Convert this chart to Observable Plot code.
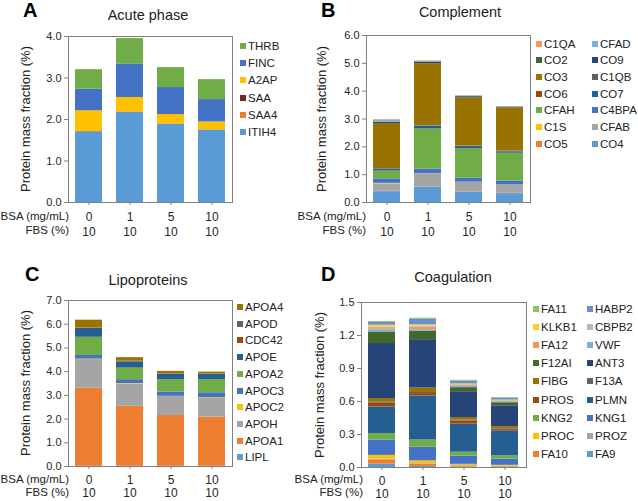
<!DOCTYPE html>
<html><head><meta charset="utf-8">
<script src="https://cdn.jsdelivr.net/npm/d3@7"></script>
<script src="https://cdn.jsdelivr.net/npm/@observablehq/plot@0.6"></script>
<style>
body{margin:0;background:#fff;font-family:Arial,"Liberation Sans",sans-serif;color:#222}
#root{position:relative;width:638px;height:501px;overflow:hidden;background:#fff}
.abs{position:absolute;white-space:nowrap}
.letter{font-weight:bold;font-size:20px;line-height:20px;color:#000}
.title{font-size:14.5px;line-height:16px;transform:translateX(-50%)}
.ylab{font-size:13px;line-height:14px;transform:translate(-50%,-50%) rotate(-90deg)}
.leg{font-size:11.5px;line-height:14px;display:flex;align-items:center}
.leg i{display:inline-block;width:6px;height:6px;margin-right:2px}
.rowh{font-size:11.5px;line-height:14px;text-align:right;transform:translateX(-100%)}
svg.plot-svg{position:absolute}
</style></head><body><div id="root"></div><script>
// Shared categories
const categories = ["0", "1", "5", "10"];   // BSA (mg/mL)
const fbs = ["10", "10", "10", "10"];         // FBS (%)

// A: Acute phase (series listed bottom -> top of stack)
const acuteSeries = ["ITIH4", "SAA4", "SAA", "A2AP", "FINC", "THRB"];
const acuteValues = [
  [1.70, 2.17, 1.88, 1.74],
  [0.005, 0.005, 0.005, 0.005],
  [0.005, 0.005, 0.005, 0.005],
  [0.50, 0.35, 0.23, 0.19],
  [0.52, 0.81, 0.65, 0.54],
  [0.47, 0.61, 0.48, 0.48]
];
const acuteColors = ["#5B9BD5", "#ED7D31", "#7B2424", "#FFC000", "#4472C4", "#70AD47"];
const acuteTicks = [0, 1, 2, 3, 4];

// B: Complement
const complSeries = ["CO4", "CO5", "CFAB", "C1S", "C4BPA", "CFAH", "CO7", "CO6", "C1QB", "CO3", "CO9", "CO2", "CFAD", "C1QA"];
const complValues = [
  [0.39, 0.54, 0.36, 0.32],
  [0.01, 0.01, 0.01, 0.01],
  [0.27, 0.47, 0.35, 0.29],
  [0.02, 0.01, 0.01, 0.01],
  [0.16, 0.17, 0.14, 0.14],
  [0.28, 1.44, 1.06, 1.00],
  [0.07, 0.10, 0.08, 0.05],
  [0.01, 0.01, 0.01, 0.01],
  [0.01, 0.01, 0.01, 0.02],
  [1.62, 2.23, 1.73, 1.55],
  [0.04, 0.05, 0.04, 0.02],
  [0.01, 0.01, 0.01, 0.01],
  [0.07, 0.02, 0.02, 0.01],
  [0.02, 0.02, 0.01, 0.01]
];
const complColors = ["#5B9BD5", "#ED7D31", "#A5A5A5", "#FFC000", "#4472C4", "#70AD47", "#255E91", "#9E480E", "#636363", "#997300", "#264478", "#43682B", "#7CAFDD", "#F1975A"];
const complTicks = [0, 1, 2, 3, 4, 5, 6];

// C: Lipoproteins
const lipoSeries = ["LIPL", "APOA1", "APOH", "APOC2", "APOC3", "APOA2", "APOE", "CDC42", "APOD", "APOA4"];
const lipoValues = [
  [0.01, 0.01, 0.01, 0.01],
  [3.29, 2.53, 2.14, 2.07],
  [1.21, 0.94, 0.80, 0.79],
  [0.02, 0.02, 0.01, 0.03],
  [0.15, 0.16, 0.18, 0.21],
  [0.77, 0.49, 0.52, 0.55],
  [0.37, 0.26, 0.23, 0.22],
  [0.01, 0.01, 0.01, 0.01],
  [0.01, 0.02, 0.01, 0.01],
  [0.33, 0.15, 0.10, 0.08]
];
const lipoColors = ["#5B9BD5", "#ED7D31", "#A5A5A5", "#FFC000", "#4472C4", "#70AD47", "#255E91", "#9E480E", "#636363", "#997300"];
const lipoTicks = [0, 1, 2, 3, 4, 5, 6, 7];

// D: Coagulation
const coagSeries = ["FA9", "FA10", "PROZ", "PROC", "KNG1", "KNG2", "PLMN", "PROS", "F13A", "FIBG", "ANT3", "F12AI", "VWF", "FA12", "CBPB2", "KLKB1", "HABP2", "FA11"];
const coagValues = [
  [0.030, 0.010, 0.005, 0.004],
  [0.037, 0.020, 0.008, 0.005],
  [0.008, 0.005, 0.004, 0.003],
  [0.035, 0.025, 0.012, 0.008],
  [0.140, 0.125, 0.075, 0.056],
  [0.058, 0.065, 0.035, 0.030],
  [0.242, 0.400, 0.255, 0.227],
  [0.035, 0.022, 0.030, 0.012],
  [0.012, 0.010, 0.008, 0.006],
  [0.030, 0.040, 0.022, 0.020],
  [0.500, 0.440, 0.235, 0.190],
  [0.105, 0.075, 0.037, 0.028],
  [0.020, 0.015, 0.012, 0.008],
  [0.010, 0.025, 0.010, 0.008],
  [0.012, 0.010, 0.006, 0.004],
  [0.020, 0.010, 0.006, 0.004],
  [0.025, 0.050, 0.025, 0.018],
  [0.008, 0.010, 0.008, 0.005]
];
const coagColors = ["#5B9BD5", "#ED7D31", "#A5A5A5", "#FFC000", "#4472C4", "#70AD47", "#255E91", "#9E480E", "#636363", "#997300", "#264478", "#43682B", "#7CAFDD", "#F1975A", "#B7B7B7", "#FFCD33", "#698ED0", "#8CC168"];
const coagTicks = [0, 0.3, 0.6, 0.9, 1.2, 1.5];

const root = document.getElementById("root");
function addDiv(cls, text, left, top) {
  const d = document.createElement("div");
  d.className = "abs " + cls;
  d.textContent = text;
  d.style.left = left + "px";
  d.style.top = top + "px";
  root.appendChild(d);
  return d;
}

function panel(cfg) {
  const data = [];
  cfg.series.forEach((s, si) => cfg.values[si].forEach((v, ci) => data.push({bsa: categories[ci], series: s, value: v})));
  const fbsOf = new Map(categories.map((c, i) => [c, fbs[i]]));
  const chart = Plot.plot({
    width: cfg.w, height: cfg.h,
    marginLeft: cfg.ml, marginRight: cfg.mr, marginTop: cfg.mt, marginBottom: cfg.mb,
    style: {background: "transparent", overflow: "visible", fontFamily: "Arial, 'Liberation Sans', sans-serif", fontSize: "11px", color: "#262626", maxWidth: "none"},
    x: {type: "band", domain: categories, paddingInner: 0.34, paddingOuter: 0.17, axis: null},
    y: {domain: cfg.domain, axis: null},
    color: {domain: cfg.series, range: cfg.colors},
    marks: [
      Plot.barY(data, {x: "bsa", y: "value", fill: "series", order: null}),
      Plot.frame({stroke: "#808080"}),
      Plot.axisY({ticks: cfg.ticks, tickFormat: d3.format(".1f"), tickSize: 4, tickPadding: 3, stroke: "#808080", fontSize: 11, label: null}),
      Plot.axisX({tickSize: 3, tickPadding: cfg.tp, stroke: "#808080", fontSize: 12, lineHeight: cfg.lh, label: null,
        tickFormat: d => d + "\n" + fbsOf.get(d)})
    ]
  });
  chart.classList.add("plot-svg");
  chart.style.position = "absolute";
  chart.style.left = cfg.left + "px";
  chart.style.top = cfg.top + "px";
  root.appendChild(chart);

  addDiv("letter", cfg.letter, cfg.letterPos[0], cfg.letterPos[1]);
  addDiv("title", cfg.title, cfg.titlePos[0], cfg.titlePos[1] - 2.6);
  addDiv("ylab", "Protein mass fraction (%)", cfg.ylabPos[0], cfg.ylabPos[1]);
  addDiv("rowh", "BSA (mg/mL)", cfg.rowhX, cfg.rowY[0] - 7);
  addDiv("rowh", "FBS (%)", cfg.rowhX, cfg.rowY[1] - 7);

  const legendItems = cfg.series.map((s, i) => ({s, c: cfg.colors[i]})).reverse();
  const ncol = cfg.legCols.length;
  legendItems.forEach((it, i) => {
    const col = i % ncol, row = Math.floor(i / ncol);
    const d = document.createElement("div");
    d.className = "abs leg";
    d.style.left = cfg.legCols[col] + "px";
    d.style.top = (cfg.legY + row * cfg.legStep - 7) + "px";
    const sq = document.createElement("i");
    sq.style.background = it.c;
    d.appendChild(sq);
    d.appendChild(document.createTextNode(it.s));
    root.appendChild(d);
  });
}

panel({letter: "A", title: "Acute phase", series: acuteSeries, values: acuteValues, colors: acuteColors, ticks: acuteTicks, domain: [0, 4],
  left: 0, top: 0, w: 236, h: 250, ml: 68, mr: 4, mt: 36, mb: 48, tp: 6, lh: 1.17,
  letterPos: [23, 0], titlePos: [148, 10], ylabPos: [26, 119], rowhX: 69, rowY: [215.5, 229.5],
  legCols: [240], legY: 46, legStep: 17.2});

panel({letter: "B", title: "Complement", series: complSeries, values: complValues, colors: complColors, ticks: complTicks, domain: [0, 6],
  left: 318, top: 0, w: 216, h: 250, ml: 48, mr: 4, mt: 35, mb: 48, tp: 6, lh: 1.17,
  letterPos: [321, 0], titlePos: [460, 7], ylabPos: [322, 119], rowhX: 366, rowY: [216, 229.5],
  legCols: [536, 592], legY: 43.5, legStep: 16.7});

panel({letter: "C", title: "Lipoproteins", series: lipoSeries, values: lipoValues, colors: lipoColors, ticks: lipoTicks, domain: [0, 7],
  left: 0, top: 250, w: 236, h: 251, ml: 68, mr: 4, mt: 50, mb: 35, tp: 5, lh: 1.1,
  letterPos: [25, 264], titlePos: [148, 275], ylabPos: [26, 383], rowhX: 69, rowY: [479, 492],
  legCols: [237], legY: 307, legStep: 16.7});

panel({letter: "D", title: "Coagulation", series: coagSeries, values: coagValues, colors: coagColors, ticks: coagTicks, domain: [0, 1.5],
  left: 318, top: 250, w: 212, h: 251, ml: 43, mr: 4, mt: 52, mb: 34, tp: 5, lh: 1.1,
  letterPos: [321, 264], titlePos: [453, 272], ylabPos: [320, 384.5], rowhX: 363, rowY: [479, 492],
  legCols: [533, 587], legY: 309, legStep: 18.1});
</script></body></html>
